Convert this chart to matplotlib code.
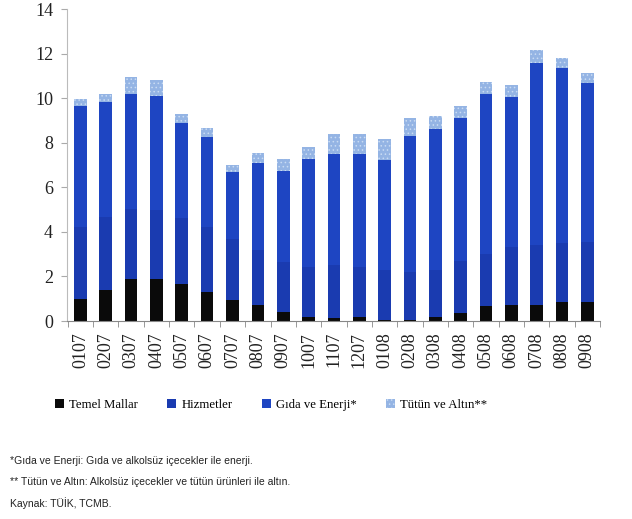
import matplotlib
matplotlib.use("Agg")
import matplotlib.pyplot as plt
import numpy as np

categories = ["0107", "0207", "0307", "0407", "0507", "0607", "0707", "0807", "0907", "1007",
              "1107", "1207", "0108", "0208", "0308", "0408", "0508", "0608", "0708", "0808", "0908"]

temel_mallar = [0.97, 1.37, 1.90, 1.87, 1.67, 1.30, 0.93, 0.73, 0.42, 0.16,
                0.12, 0.18, 0.06, 0.06, 0.18, 0.37, 0.66, 0.70, 0.70, 0.85, 0.87]
hizmetler_top = [4.22, 4.67, 5.04, 4.97, 4.60, 4.22, 3.70, 3.18, 2.65, 2.43,
                 2.50, 2.42, 2.27, 2.20, 2.30, 2.70, 3.00, 3.30, 3.40, 3.50, 3.55]
gida_top = [9.65, 9.83, 10.17, 10.11, 8.88, 8.25, 6.67, 7.11, 6.74, 7.27,
            7.50, 7.49, 7.21, 8.28, 8.61, 9.10, 10.18, 10.06, 11.56, 11.36, 10.69]
total_top = [9.95, 10.19, 10.93, 10.81, 9.29, 8.67, 7.02, 7.53, 7.25, 7.83,
             8.41, 8.41, 8.18, 9.10, 9.18, 9.65, 10.72, 10.59, 12.14, 11.82, 11.12]

yticks = [0, 2, 4, 6, 8, 10, 12, 14]
legend_labels = ["Temel Mallar", "Hizmetler", "Gıda ve Enerji*", "Tütün ve Altın**"]
footnotes = ["*Gıda ve Enerji: Gıda ve alkolsüz içecekler ile enerji.",
             "** Tütün ve Altın: Alkolsüz içecekler ve tütün ürünleri ile altın.",
             "Kaynak: TÜİK, TCMB."]

tm = np.array(temel_mallar)
hz = np.array(hizmetler_top) - tm
gd = np.array(gida_top) - np.array(hizmetler_top)
ta = np.array(total_top) - np.array(gida_top)

serif = ["Liberation Serif", "DejaVu Serif"]
sans = ["Liberation Sans Narrow", "Liberation Sans", "DejaVu Sans"]

plt.rcParams['hatch.color'] = '#c9dbf3'
plt.rcParams['hatch.linewidth'] = 0.6

fig = plt.figure(figsize=(6.32, 5.19), dpi=100)
ax = fig.add_axes([67/632, 1 - 321/519, (600-67)/632, (321-9)/519])

x = np.arange(len(categories))
w = 0.5
c_tm, c_hz, c_gd, c_ta = "#0a0a0a", "#1a3bb0", "#1e45c2", "#94b4e4"
ax.bar(x, tm, w, color=c_tm, linewidth=0)
ax.bar(x, hz, w, bottom=tm, color=c_hz, linewidth=0)
ax.bar(x, gd, w, bottom=tm + hz, color=c_gd, linewidth=0)
ax.bar(x, ta, w, bottom=tm + hz + gd, color=c_ta, linewidth=0, hatch='....')

ax.set_xlim(-0.53, 20.5)
ax.set_ylim(0, 14)
ax.set_yticks(yticks)
ax.set_yticklabels([str(v) for v in yticks], fontfamily=serif, fontsize=13, color="#222222")
ax.set_xticks(x)
ax.set_xticklabels(categories, rotation=90, fontfamily=serif, fontsize=13, color="#222222")
ax.tick_params(axis='x', which='major', length=0, pad=8)
ax.set_xticks(np.arange(-0.5, 21, 1), minor=True)
ax.tick_params(axis='x', which='minor', length=4, color="#888888", direction='out')
ax.tick_params(axis='y', length=4, color="#aaaaaa", direction='out', pad=6)
for s in ["top", "right"]:
    ax.spines[s].set_visible(False)
ax.spines["left"].set_color("#bbbbbb")
ax.spines["bottom"].set_color("#888888")
ax.spines["left"].set_linewidth(0.8)
ax.spines["bottom"].set_linewidth(0.8)

from matplotlib.patches import Patch
handles = [Patch(facecolor=c_tm), Patch(facecolor=c_hz), Patch(facecolor=c_gd),
           Patch(facecolor=c_ta, hatch='....', linewidth=0)]
leg = fig.legend(handles, legend_labels, loc="center", bbox_to_anchor=(271/632, 1 - 405/519),
                 ncol=4, frameon=False, prop={"family": serif, "size": 9.2},
                 handlelength=0.7, handleheight=0.7, handletextpad=0.4, columnspacing=2.3)

ys = [461, 482, 503]
for t, yy in zip(footnotes, ys):
    fig.text(10/632, 1 - yy/519, t, fontfamily=sans, fontsize=7.5, va="center", ha="left", color="#222222")

fig.savefig("out.png", dpi=100)
